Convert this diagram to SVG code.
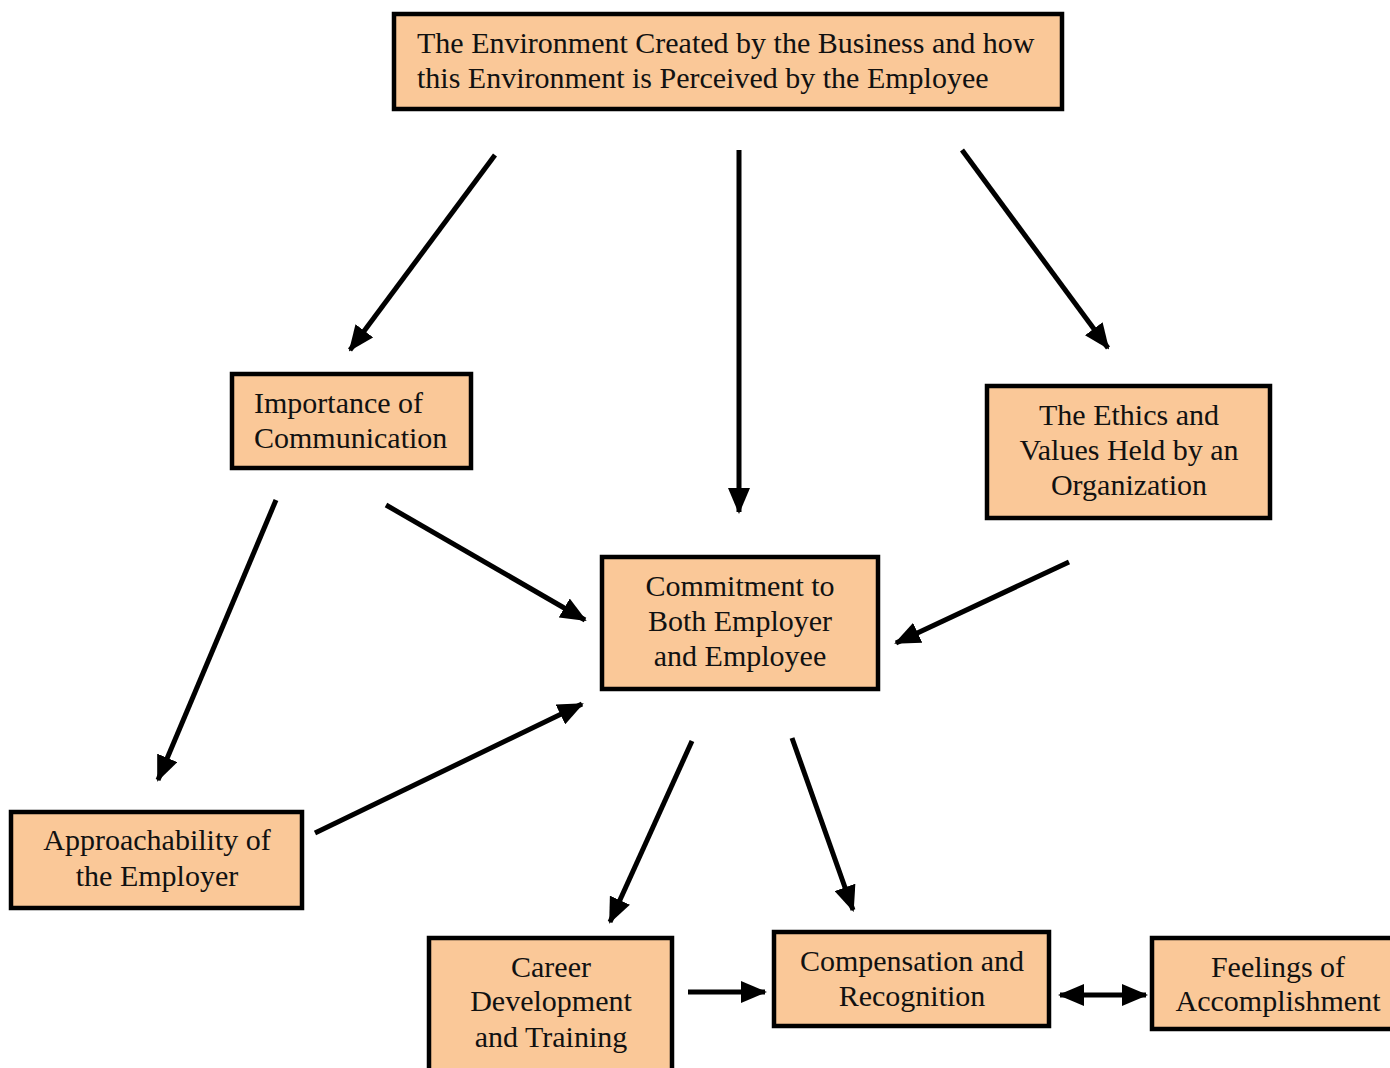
<svg xmlns="http://www.w3.org/2000/svg" width="1390" height="1068" viewBox="0 0 1390 1068">
<style>
.box{fill:#FAC898;stroke:#000;stroke-width:4.5}
text{font-family:'Liberation Serif','Tinos','Times New Roman','DejaVu Serif',serif;font-size:30px;fill:#111}
.c{text-anchor:middle}
.ln{stroke:#000;stroke-width:5;fill:none}
</style>
<defs>
<marker id="ah" markerUnits="userSpaceOnUse" markerWidth="26" markerHeight="22" refX="24" refY="11" orient="auto">
<path d="M0,0 L26,11 L0,22 Z" fill="#000"/>
</marker>
<marker id="as" markerUnits="userSpaceOnUse" markerWidth="26" markerHeight="22" refX="2" refY="11" orient="auto">
<path d="M26,0 L0,11 L26,22 Z" fill="#000"/>
</marker>
</defs>
<rect width="1390" height="1068" fill="#fff"/>
<g id="connectors">
<line class="ln" x1="495" y1="155" x2="350" y2="350" marker-end="url(#ah)"/>
<line class="ln" x1="739" y1="150" x2="739" y2="512" marker-end="url(#ah)"/>
<line class="ln" x1="962" y1="150" x2="1108" y2="348" marker-end="url(#ah)"/>
<line class="ln" x1="276" y1="500" x2="158" y2="780" marker-end="url(#ah)"/>
<line class="ln" x1="386" y1="505" x2="585" y2="620" marker-end="url(#ah)"/>
<line class="ln" x1="1069" y1="562" x2="896" y2="643" marker-end="url(#ah)"/>
<line class="ln" x1="315" y1="833" x2="582" y2="704" marker-end="url(#ah)"/>
<line class="ln" x1="692" y1="741" x2="610" y2="922" marker-end="url(#ah)"/>
<line class="ln" x1="792" y1="738" x2="853" y2="910" marker-end="url(#ah)"/>
<line class="ln" x1="688" y1="992" x2="765" y2="992" marker-end="url(#ah)"/>
<line class="ln" x1="1060" y1="995" x2="1146" y2="995" marker-start="url(#as)" marker-end="url(#ah)"/>
</g>
<g id="environment">
<rect class="box" x="394" y="14" width="668" height="95"/>
<text x="417" y="53">The Environment Created by the Business and how</text>
<text x="417" y="88">this Environment is Perceived by the Employee</text>
</g>
<g id="communication">
<rect class="box" x="232" y="374" width="239" height="94"/>
<text x="254" y="413">Importance of</text>
<text x="254" y="448">Communication</text>
</g>
<g id="ethics">
<rect class="box" x="987" y="386" width="283" height="132"/>
<text class="c" x="1129" y="425">The Ethics and</text>
<text class="c" x="1129" y="460">Values Held by an</text>
<text class="c" x="1129" y="495">Organization</text>
</g>
<g id="commitment">
<rect class="box" x="602" y="557" width="276" height="132"/>
<text class="c" x="740" y="596">Commitment to</text>
<text class="c" x="740" y="631">Both Employer</text>
<text class="c" x="740" y="666">and Employee</text>
</g>
<g id="approachability">
<rect class="box" x="11" y="812" width="291" height="96"/>
<text class="c" x="157" y="850">Approachability of</text>
<text class="c" x="157" y="886">the Employer</text>
</g>
<g id="career">
<rect class="box" x="429" y="938" width="243" height="140"/>
<text class="c" x="551" y="977">Career</text>
<text class="c" x="551" y="1011">Development</text>
<text class="c" x="551" y="1047">and Training</text>
</g>
<g id="compensation">
<rect class="box" x="774" y="932" width="275" height="94"/>
<text class="c" x="912" y="971">Compensation and</text>
<text class="c" x="912" y="1006">Recognition</text>
</g>
<g id="feelings">
<rect class="box" x="1152" y="938" width="245" height="91"/>
<text class="c" x="1278" y="977">Feelings of</text>
<text class="c" x="1278" y="1011">Accomplishment</text>
</g>
</svg>
